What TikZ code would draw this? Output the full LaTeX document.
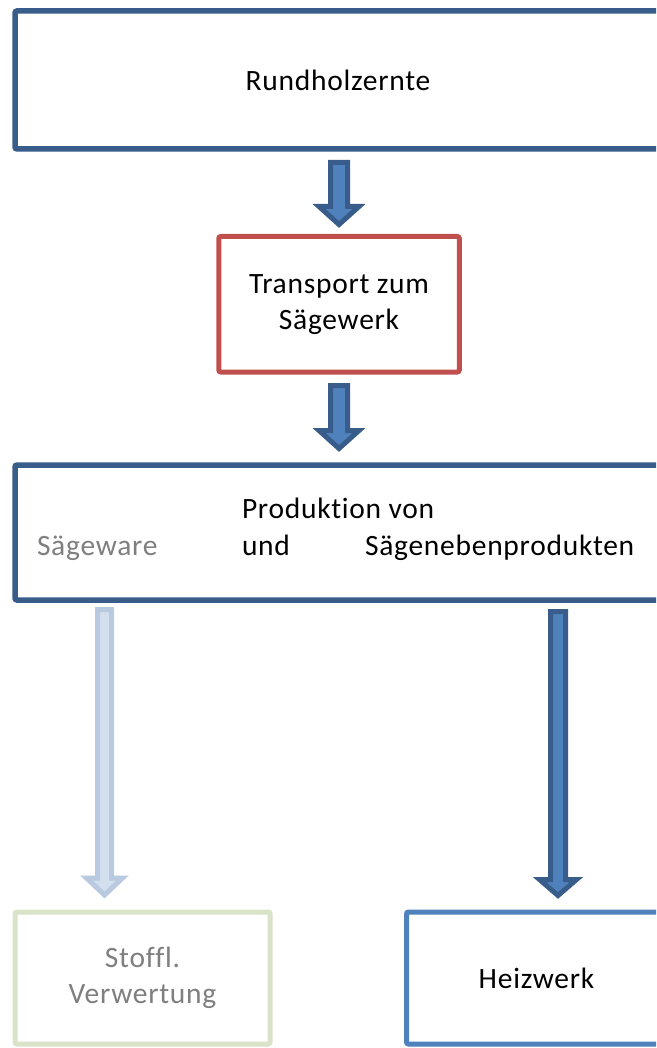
\documentclass[tikz,border=0pt]{standalone}
\usepackage{fontspec}
\setmainfont[LetterSpace=2.5, Ligatures={NoCommon}]{Carlito}
\usetikzlibrary{calc}

\definecolor{frameblue}{HTML}{385D8A}
\definecolor{framered}{HTML}{C0504D}
\definecolor{accentblue}{HTML}{4F81BD}
\definecolor{palegreen}{HTML}{D9E3C8}
\definecolor{paleblue}{HTML}{D3DFEE}
\definecolor{paleedge}{HTML}{B9C9DF}
\definecolor{softgray}{HTML}{7F7F7F}

% block arrow between two named coordinates:
% #1 style, #2 start, #3 tip, #4 shaft half width, #5 head half width, #6 head length
\newcommand\blockarrow[6]{%
  \draw[#1] let \p1=(#2), \p2=(#3) in
    (\x1-#4pt,\y1) -- (\x1+#4pt,\y1) -- (\x1+#4pt,\y2+#6pt) -- (\x1+#5pt,\y2+#6pt)
    -- (\x1,\y2) -- (\x1-#5pt,\y2+#6pt) -- (\x1-#4pt,\y2+#6pt) -- cycle;}

\tikzset{
  box/.style={draw, line width=5.5pt, rounded corners=2pt, outer sep=0pt,
    inner sep=0pt, align=center, font=\fontsize{29.5}{36}\selectfont},
  label/.style={inner sep=0pt, outer sep=0pt, anchor=base west,
    font=\fontsize{29.5}{36}\selectfont},
  flow/.style={draw=frameblue, fill=accentblue, line width=5pt, line join=miter},
  fadedflow/.style={draw=paleedge, fill=paleblue, line width=5pt, line join=miter},
}

\begin{document}
\begin{tikzpicture}[x=1pt, y=-1pt]
\useasboundingbox (0,0) rectangle (656,1048);
\clip (0,0) rectangle (656,1048);
\fill[white] (0,0) rectangle (656,1048);

% process boxes
\node[box, draw=frameblue, minimum width=646pt, minimum height=138pt]
  (harvest) at (338,80) {Rundholzernte};
\node[box, draw=framered, line width=5pt, minimum width=240.5pt, minimum height=135.5pt]
  (transport) at (339,304.25) {Transport zum\\Sägewerk};
\node[box, draw=frameblue, minimum width=646pt, minimum height=135pt]
  (sawmill) at (338,532.5) {};
\node[box, draw=palegreen, line width=5pt, text=softgray, minimum width=255pt, minimum height=132pt]
  (material) at (142.5,978) {Stoffl.\\Verwertung};
\node[box, draw=accentblue, line width=5pt, minimum width=260pt, minimum height=132pt]
  (heating) at (536.5,978) {Heizwerk};

% sawmill text
\node[label] (prod) at (242,518) {Produktion von};
\node[label, text=softgray] (lumber) at (37,555) {Sägeware};
\node[label] (und) at (242,555) {und};
\node[label] (byprod) at (365,555) {Sägenebenprodukten};

% arrow end points
\coordinate (a1s) at ($(harvest.south -| transport.north)+(0,13.5)$);
\coordinate (a1e) at ($(transport.north)+(0,-12)$);
\coordinate (a2s) at ($(transport.south)+(0,13.5)$);
\coordinate (a2e) at ($(sawmill.north -| transport.south)+(0,-16.5)$);
\coordinate (a3s) at ($(sawmill.south -| material.north)+(-38,9.5)$);
\coordinate (a3e) at ($(material.north)+(-38,-17)$);
\coordinate (a4s) at ($(sawmill.south -| heating.north)+(21.5,11.5)$);
\coordinate (a4e) at ($(heating.north)+(21.5,-16.5)$);

\blockarrow{flow}{a1s}{a1e}{8.5}{20}{18}
\blockarrow{flow}{a2s}{a2e}{8.5}{20}{18}
\blockarrow{fadedflow}{a3s}{a3e}{7}{18}{17}
\blockarrow{flow}{a4s}{a4e}{7.5}{18.5}{16}
\end{tikzpicture}
\end{document}
